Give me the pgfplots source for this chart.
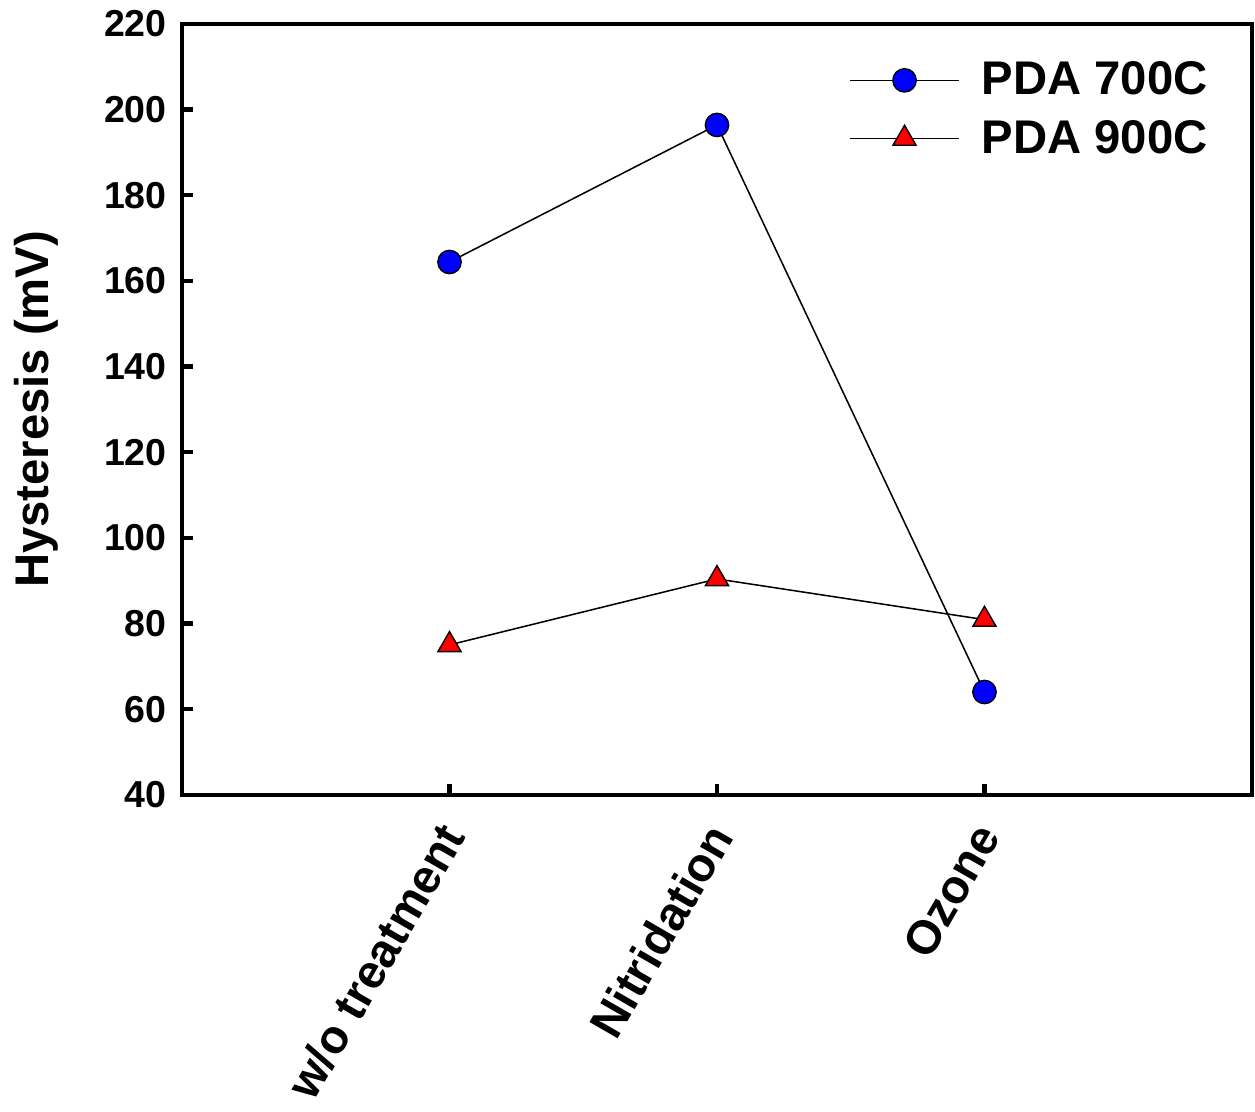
\documentclass[border=0pt]{standalone}
\usepackage{fontspec}
\setmainfont{Liberation Sans}
\usepackage{pgfplots}
\pgfplotsset{compat=1.18}
\definecolor{mkblue}{RGB}{0,0,255}
\definecolor{mkred}{RGB}{255,0,0}

\begin{document}
\begin{tikzpicture}
\begin{axis}[
  scale only axis, width=385pt, height=277.4pt,
  xmin=0, xmax=4, ymin=40, ymax=220,
  xtick={1,2,3},
  xticklabels={w/o treatment, Nitridation, Ozone},
  ytick={40,60,...,220},
  xtick pos=lower, ytick pos=left,
  tick align=inside, major tick length=4pt,
  tick style={line width=1.6pt, black},
  axis line style={line width=1.6pt},
  /pgf/number format/assume math mode=true,
  yticklabel style={font=\fontsize{13.5}{16}\selectfont\bfseries, xshift=-2pt},
  xticklabel style={font=\fontsize{17}{20}\selectfont\bfseries,
    rotate=60, anchor=east, yshift=-7pt, xshift=-6.5pt},
  ylabel={Hysteresis (mV)},
  ylabel style={font=\fontsize{17}{20}\selectfont\bfseries,
    at={(axis description cs:-0.136,0.5)}, anchor=center},
  legend style={at={(rel axis cs:0.972,0.966)}, anchor=north east,
    draw=none, fill=none, font=\fontsize{17}{20}\selectfont\bfseries,
    row sep=3.6pt, column sep=6pt},
  legend cell align=left,
  legend image code/.code={\draw[mark repeat=2,mark phase=2,#1]
    plot coordinates {(0pt,0pt)(19.5pt,0pt)(39pt,0pt)};},
]
\addplot[black, line width=0.55pt, mark=*, mark size=4.2pt,
  mark options={fill=mkblue, draw=black, line width=0.5pt}]
  coordinates {(1,164.4) (2,196.4) (3,64.0)};
\addlegendentry{PDA 700C}
\addplot[black, line width=0.55pt, mark=triangle*, mark size=4.8pt,
  mark options={fill=mkred, draw=black, line width=0.5pt}]
  coordinates {(1,75.0) (2,90.4) (3,80.9)};
\addlegendentry{PDA 900C}
\end{axis}
% frame the page like the reference figure
\pgfresetboundingbox
\path ([xshift=-65.5pt,yshift=-114pt]current axis.south west)
  rectangle ([xshift=1.1pt,yshift=8.6pt]current axis.north east);
\end{tikzpicture}
\end{document}
